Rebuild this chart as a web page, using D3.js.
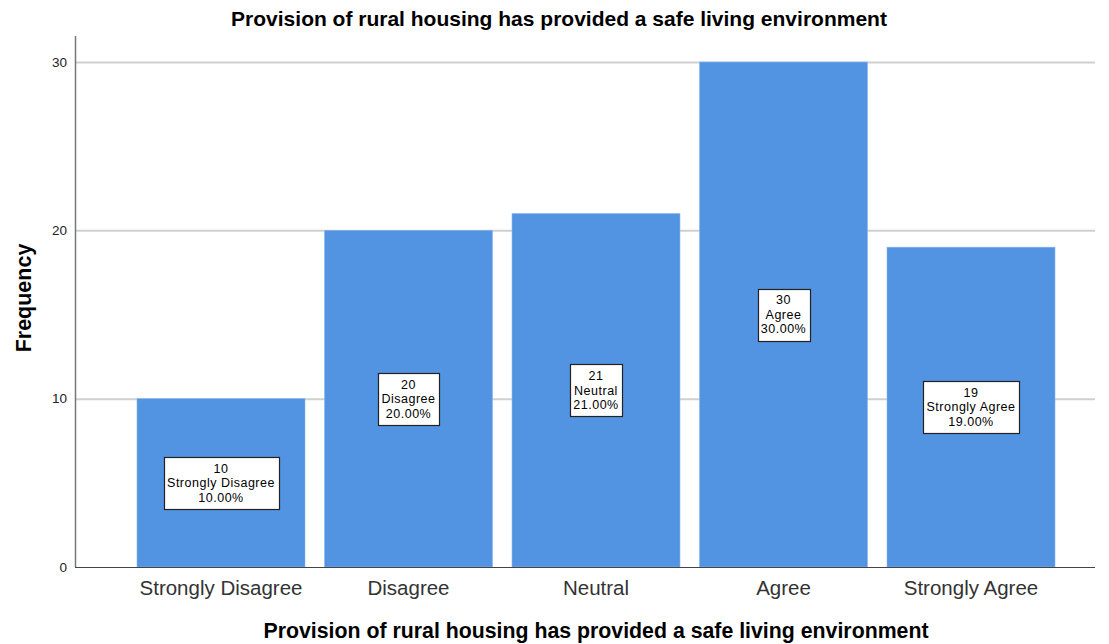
<!DOCTYPE html>
<html><head><meta charset="utf-8">
<script src="https://cdn.jsdelivr.net/npm/d3@7"></script>
<style>body{margin:0;background:#fff}svg{display:block}text{font-family:Arial,"Liberation Sans",sans-serif}</style>
</head><body>
<svg id="c" width="1109" height="644"></svg>
<script>
const categories = ["Strongly Disagree","Disagree","Neutral","Agree","Strongly Agree"];
const frequencies = [10,20,21,30,19];
const percents = ["10.00%","20.00%","21.00%","30.00%","19.00%"];
const yTicks = [0,10,20,30];
const title = "Provision of rural housing has provided a safe living environment";
const xTitle = "Provision of rural housing has provided a safe living environment";
const yTitle = "Frequency";

const svg = d3.select("#c");
const x = d3.scaleBand().domain(categories).range([127.25,1064.75]).paddingInner(0.104).paddingOuter(0.052);
const y = d3.scaleLinear().domain([0,30]).range([567,62]);
const axisX = 75, gridRight = 1095;

// gridlines
svg.append("g").selectAll("line").data(yTicks.filter(d=>d>0)).join("line")
  .attr("x1",axisX).attr("x2",gridRight).attr("y1",d=>y(d)+0.5).attr("y2",d=>y(d)+0.5)
  .attr("stroke","#d0d0d0").attr("stroke-width",2);

// bars
svg.append("g").selectAll("rect").data(categories).join("rect")
  .attr("x",d=>x(d)).attr("width",x.bandwidth())
  .attr("y",(d,i)=>y(frequencies[i])).attr("height",(d,i)=>y(0)-y(frequencies[i]))
  .attr("fill","#5294e2").attr("stroke","#8ab6ee").attr("stroke-width",0.6);

// axes lines
svg.append("line").attr("x1",axisX+0.5).attr("x2",axisX+0.5).attr("y1",36).attr("y2",567).attr("stroke","#777").attr("stroke-width",1.5);
svg.append("line").attr("x1",axisX).attr("x2",gridRight).attr("y1",567.5).attr("y2",567.5).attr("stroke","#444").attr("stroke-width",1);

// y tick labels
svg.append("g").selectAll("text").data(yTicks).join("text")
  .attr("x",67).attr("y",d=>y(d)).attr("dy","0.35em").attr("text-anchor","end")
  .attr("font-size",13.5).attr("fill","#222").text(d=>d);

// x category labels
svg.append("g").selectAll("text").data(categories).join("text")
  .attr("x",d=>x(d)+x.bandwidth()/2).attr("y",595).attr("text-anchor","middle")
  .attr("font-size",20.5).attr("fill","#333").text(d=>d);

// data labels
const lg = svg.append("g");
categories.forEach((c,i)=>{
  const cx = x(c)+x.bandwidth()/2, cy = y(frequencies[i]/2);
  const g = lg.append("g");
  const lines = [String(frequencies[i]), c, percents[i]];
  const rect = g.append("rect");
  const t = g.selectAll("text").data(lines).join("text")
    .attr("x",cx).attr("y",(d,k)=>cy+(k-1)*14.5).attr("dy","0.35em")
    .attr("text-anchor","middle").attr("font-size",12.5).attr("letter-spacing",0.5).attr("fill","#000").text(d=>d);
  let w = 0; t.each(function(){w=Math.max(w,this.getComputedTextLength());});
  const bw = Math.round(w+7), bh = 52;
  rect.attr("x",Math.round(cx-bw/2)+0.5).attr("y",Math.round(cy-bh/2)+0.5).attr("width",bw).attr("height",bh)
    .attr("fill","#fff").attr("stroke","#222").attr("stroke-width",1.2);
});

// titles
svg.append("text").attr("x",559).attr("y",26).attr("text-anchor","middle").attr("font-size",21).attr("font-weight","bold").attr("fill","#000").text(title);
svg.append("text").attr("x",596).attr("y",638).attr("text-anchor","middle").attr("font-size",21.3).attr("font-weight","bold").attr("fill","#000").text(xTitle);
svg.append("text").attr("transform","translate(31,298) rotate(-90)").attr("text-anchor","middle").attr("font-size",21.5).attr("font-weight","bold").attr("fill","#000").text(yTitle);
</script>
</body></html>
